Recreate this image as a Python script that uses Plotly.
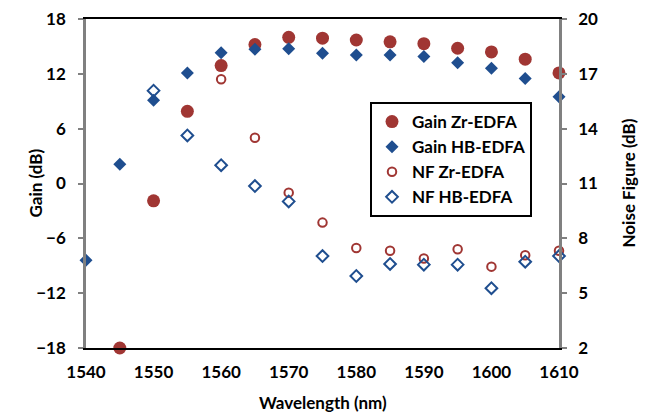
import plotly.graph_objects as go

gain_zr_x = [1545, 1550, 1555, 1560, 1565, 1570, 1575, 1580, 1585, 1590, 1595, 1600, 1605, 1610]
gain_zr = [-18.0, -1.9, 7.9, 12.9, 15.2, 16.0, 15.9, 15.7, 15.5, 15.3, 14.8, 14.4, 13.6, 12.1]

gain_hb_x = [1540, 1545, 1550, 1555, 1560, 1565, 1570, 1575, 1580, 1585, 1590, 1595, 1600, 1605, 1610]
gain_hb = [-8.4, 2.1, 9.1, 12.1, 14.3, 14.7, 14.75, 14.25, 14.06, 14.06, 13.9, 13.2, 12.6, 11.5, 9.5]

nf_zr_x = [1560, 1565, 1570, 1575, 1580, 1585, 1590, 1595, 1600, 1605, 1610]
nf_zr = [16.7, 13.5, 10.5, 8.86, 7.47, 7.32, 6.9, 7.4, 6.45, 7.07, 7.32]

nf_hb_x = [1550, 1555, 1560, 1565, 1570, 1575, 1580, 1585, 1590, 1595, 1600, 1605, 1610]
nf_hb = [16.08, 13.63, 12.0, 10.86, 10.02, 7.03, 5.94, 6.6, 6.56, 6.56, 5.27, 6.72, 7.03]

gain_ticks = [-18, -12, -6, 0, 6, 12, 18]
nf_ticks = [2, 5, 8, 11, 14, 17, 20]
x_ticks = [1540, 1550, 1560, 1570, 1580, 1590, 1600, 1610]

RED = "#A03633"
BLUE = "#1F4E8F"
GRAY = "#808080"
FONT = "Lato"

fig = go.Figure()
fig.add_trace(go.Scatter(x=gain_zr_x, y=gain_zr, mode="markers", name="Gain Zr-EDFA",
                         marker=dict(symbol="circle", size=13, color=RED), cliponaxis=False))
fig.add_trace(go.Scatter(x=gain_hb_x, y=gain_hb, mode="markers", name="Gain HB-EDFA",
                         marker=dict(symbol="diamond", size=10, color=BLUE), cliponaxis=False))
fig.add_trace(go.Scatter(x=nf_zr_x, y=nf_zr, mode="markers", name="NF Zr-EDFA", yaxis="y2",
                         marker=dict(symbol="circle-open", size=8.5, color=RED, line=dict(width=2)),
                         cliponaxis=False))
fig.add_trace(go.Scatter(x=nf_hb_x, y=nf_hb, mode="markers", name="NF HB-EDFA", yaxis="y2",
                         marker=dict(symbol="diamond-open", size=9, color=BLUE, line=dict(width=2)),
                         cliponaxis=False))

tickfont = dict(family=FONT, size=17, color="black", weight="bold")
titlefont = dict(family=FONT, size=17, color="black", weight="bold")

fig.update_layout(
    width=646, height=412,
    margin=dict(l=86, r=87, t=19, b=64, autoexpand=False),
    paper_bgcolor="white", plot_bgcolor="white",
    showlegend=True,
    legend=dict(x=(370 - 86) / 473, y=(348 - 102) / 329, xanchor="left", yanchor="top",
                bordercolor="black", borderwidth=2, bgcolor="white",
                font=dict(family=FONT, size=17, color="black", weight="bold"),
                itemwidth=30, tracegroupgap=0),
    xaxis=dict(range=[1540, 1610], tickvals=x_ticks, showgrid=False, zeroline=False,
               showline=True, linecolor="black", linewidth=2, mirror=True,
               ticks="", tickfont=tickfont, automargin=False, ticklabelstandoff=8),
    yaxis=dict(range=[-18, 18], tickvals=gain_ticks, showgrid=False, zeroline=False,
               showline=True, linecolor=GRAY, linewidth=2.5,
               ticks="outside", ticklen=5, tickcolor=GRAY, tickwidth=1.5,
               tickfont=tickfont, automargin=False, ticklabelstandoff=9),
    yaxis2=dict(range=[2, 20], tickvals=nf_ticks, overlaying="y", side="right",
                showgrid=False, zeroline=False,
                showline=True, linecolor=GRAY, linewidth=2.5,
                ticks="outside", ticklen=5, tickcolor=GRAY, tickwidth=1.5,
                tickfont=tickfont, automargin=False, ticklabelstandoff=8),
    annotations=[
        dict(text="Gain (dB)", xref="paper", yref="paper", x=(35 - 86) / 473, y=0.5,
             textangle=-90, showarrow=False, font=titlefont, xanchor="center", yanchor="middle"),
        dict(text="Noise Figure (dB)", xref="paper", yref="paper", x=(628 - 86) / 473, y=0.5,
             textangle=-90, showarrow=False, font=titlefont, xanchor="center", yanchor="middle"),
        dict(text="Wavelength (nm)", xref="paper", yref="paper", x=0.5, y=(348 - 402) / 329,
             showarrow=False, font=titlefont, xanchor="center", yanchor="middle"),
    ],
)

fig.write_html("out.html", config={"displayModeBar": False},
               post_script="document.body.style.margin='0';")
